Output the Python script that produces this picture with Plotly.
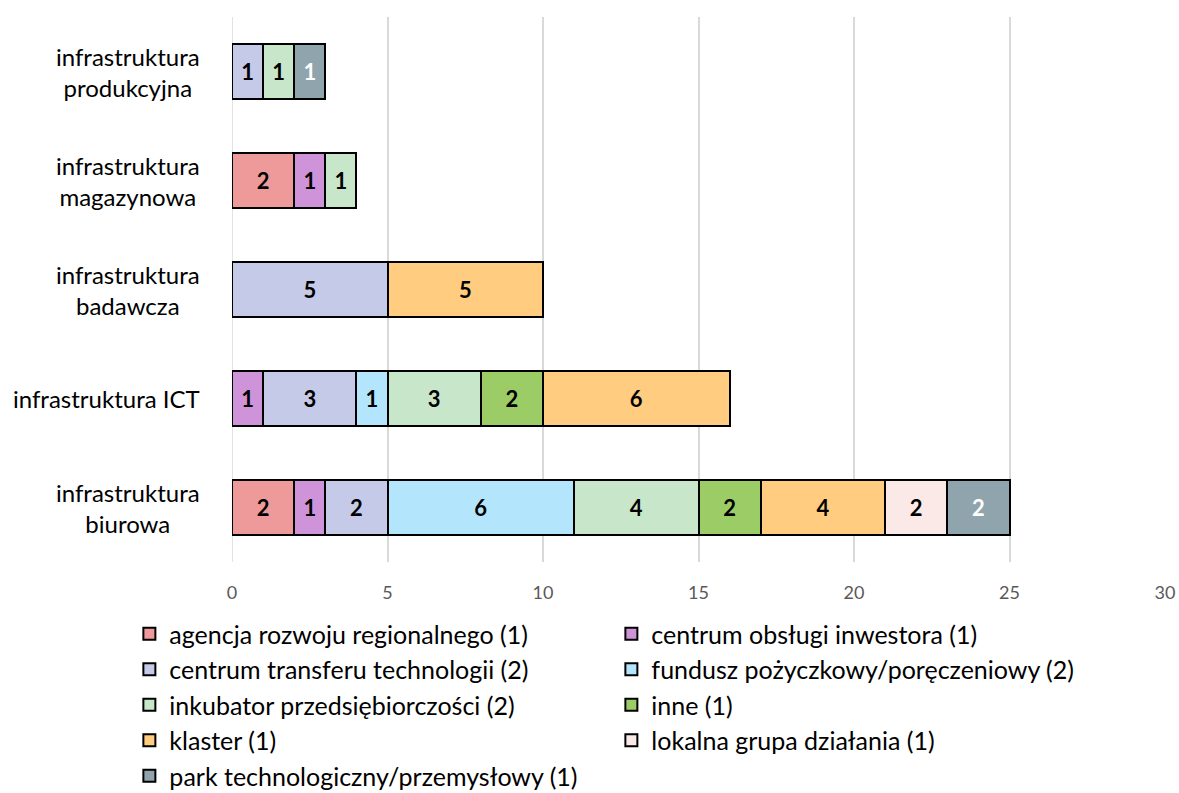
import plotly.graph_objects as go

categories = ["infrastruktura<br>biurowa", "infrastruktura ICT", "infrastruktura<br>badawcza",
              "infrastruktura<br>magazynowa", "infrastruktura<br>produkcyjna"]

series_names = ["agencja rozwoju regionalnego (1)", "centrum obsługi inwestora (1)",
                "centrum transferu technologii (2)", "fundusz pożyczkowy/poręczeniowy (2)",
                "inkubator przedsiębiorczości (2)", "inne (1)", "klaster (1)",
                "lokalna grupa działania (1)", "park technologiczny/przemysłowy (1)"]

agencja = [2, None, None, 2, None]
centrum_obslugi = [1, 1, None, 1, None]
centrum_transferu = [2, 3, 5, None, 1]
fundusz = [6, 1, None, None, None]
inkubator = [4, 3, None, 1, 1]
inne = [2, 2, None, None, None]
klaster = [4, 6, 5, None, None]
lokalna = [2, None, None, None, None]
park = [2, None, None, None, 1]

values = [agencja, centrum_obslugi, centrum_transferu, fundusz, inkubator, inne, klaster, lokalna, park]
colors = ["#EF9A9A", "#CE93D8", "#C5CAE9", "#B3E5FC", "#C8E6C9", "#9CCC65", "#FFCC80", "#FBE9E7", "#90A4AE"]
text_colors = ["black"] * 8 + ["white"]

FONT = "Lato"

fig = go.Figure()
for name, vals, col, tc in zip(series_names, values, colors, text_colors):
    fig.add_trace(go.Bar(
        y=categories, x=vals, name=name, orientation="h",
        marker=dict(color=col, line=dict(color="black", width=2)),
        text=vals, texttemplate="<b>%{x}</b>", textposition="inside",
        insidetextanchor="middle", textangle=0, constraintext="none",
        insidetextfont=dict(family=FONT, size=22, color=tc),
    ))

for c in categories:
    fig.add_annotation(x=0, xref="paper", y=c, yref="y", text=c, showarrow=False,
                       xanchor="right", align="center", xshift=-30,
                       font=dict(family=FONT, size=24, color="black"))

fig.update_layout(
    barmode="stack", bargap=0.5,
    width=1179, height=793,
    margin=dict(l=232, r=14, t=17, b=231, autoexpand=False),
    plot_bgcolor="white", paper_bgcolor="white",
    font=dict(family=FONT, size=20, color="black"),
    showlegend=True,
    legend=dict(orientation="h", x=-0.11, y=-0.09, xanchor="left", yanchor="top",
                entrywidth=437, entrywidthmode="pixels", traceorder="normal",
                font=dict(family=FONT, size=25, color="black"), itemwidth=30,
                tracegroupgap=0),
    xaxis=dict(range=[0, 30], dtick=5, showgrid=True, gridcolor="#D9D9D9", gridwidth=1.5,
               zeroline=False, showline=False, ticks="", ticklabelstandoff=18,
               tickfont=dict(family=FONT, size=18, color="#595959")),
    yaxis=dict(showticklabels=False, showgrid=False, zeroline=False, showline=False,
               categoryorder="array", categoryarray=categories),
)
fig.add_vline(x=0, line=dict(color="#D9D9D9", width=1.5), layer="below")

fig.write_html("out.html", config={"displayModeBar": False},
               post_script="document.body.style.margin='0';")
